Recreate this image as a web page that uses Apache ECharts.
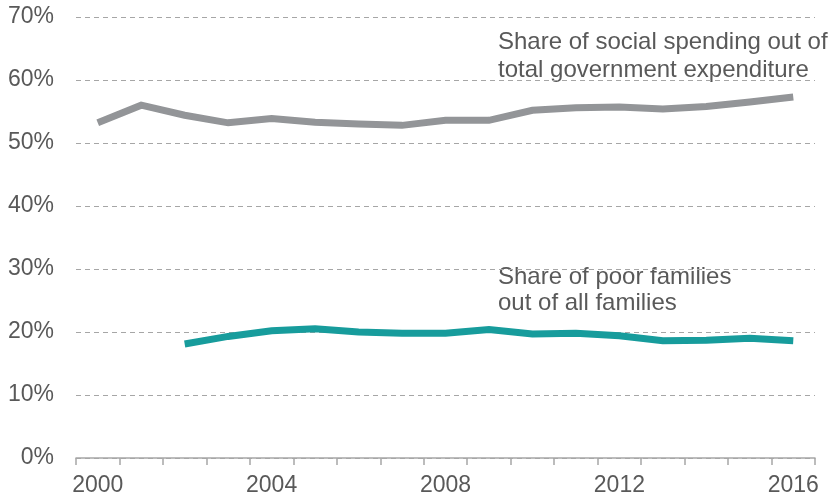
<!DOCTYPE html>
<html>
<head>
<meta charset="utf-8">
<style>
  html, body { margin: 0; padding: 0; background: #fff; }
  #chart { width: 834px; height: 501px; }
</style>
<script src="https://cdn.jsdelivr.net/npm/echarts@6/dist/echarts.min.js"></script>
</head>
<body>
<div id="chart"></div>
<script>
// Years on the horizontal axis
const years = ['2000','2001','2002','2003','2004','2005','2006','2007','2008',
               '2009','2010','2011','2012','2013','2014','2015','2016'];

// Share of social spending out of total government expenditure (%)
const socialSpending = [53.2, 56.0, 54.4, 53.2, 53.9, 53.3, 53.0, 52.8, 53.6,
                        53.6, 55.2, 55.6, 55.7, 55.4, 55.8, 56.5, 57.3];

// Share of poor families out of all families (%), from 2002
const poorFamilies = [null, null, 18.1, 19.3, 20.2, 20.5, 20.0, 19.8, 19.8,
                      20.4, 19.7, 19.8, 19.4, 18.6, 18.7, 19.0, 18.6];

// Labels shown for the years on the axis
const yearLabels = ['2000', '2004', '2008', '2012', '2016'];

const textColor = '#595959';
const font = '"Liberation Sans", Arial, sans-serif';

const chart = echarts.init(document.getElementById('chart'));
chart.setOption({
  animation: false,
  grid: { left: 76, right: 19, top: 17, bottom: 43 },
  xAxis: {
    type: 'category',
    data: years,
    boundaryGap: true,
    axisLine: { lineStyle: { color: '#a6a6a6', width: 1.5 } },
    axisTick: { show: true, length: 7, interval: 0, lineStyle: { color: '#a6a6a6', width: 1.5 } },
    axisLabel: {
      interval: 0,
      color: textColor,
      fontFamily: font,
      fontSize: 23,
      margin: 16,
      formatter: v => yearLabels.includes(v) ? v : ''
    },
    splitLine: { show: false }
  },
  yAxis: {
    type: 'value',
    min: 0,
    max: 70,
    interval: 10,
    axisLine: { show: false },
    axisTick: { show: false },
    axisLabel: {
      color: textColor,
      fontFamily: font,
      fontSize: 23,
      margin: 22,
      formatter: '{value}%'
    },
    splitLine: { lineStyle: { color: '#a6a6a6', type: [5, 4], width: 1 } }
  },
  series: [
    {
      name: 'Share of social spending out of total government expenditure',
      type: 'line',
      data: socialSpending,
      symbol: 'none',
      lineStyle: { color: '#939598', width: 7, cap: 'butt', join: 'miter' },
      z: 3
    },
    {
      name: 'Share of poor families out of all families',
      type: 'line',
      data: poorFamilies,
      symbol: 'none',
      lineStyle: { color: '#179c9c', width: 7, cap: 'butt', join: 'miter' },
      z: 3
    }
  ],
  graphic: [
    {
      type: 'text',
      left: 498,
      top: 28,
      style: {
        text: 'Share of social spending out of\ntotal government expenditure',
        fill: textColor,
        font: '24px ' + font,
        lineHeight: 28
      }
    },
    {
      type: 'text',
      left: 498,
      top: 264,
      style: {
        text: 'Share of poor families\nout of all families',
        fill: textColor,
        font: '24px ' + font,
        lineHeight: 26
      }
    }
  ]
});
</script>
</body>
</html>
